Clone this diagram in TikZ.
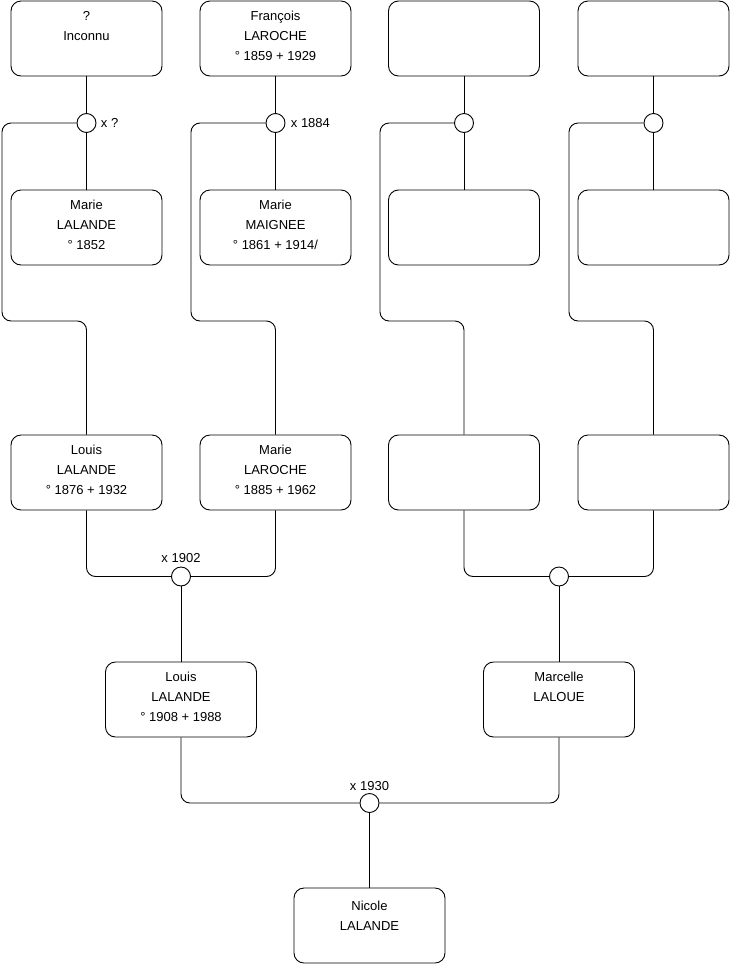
\documentclass[tikz,border=0pt]{standalone}
\usepackage{fontspec}
\setmainfont{Liberation Sans}
\begin{document}
\begin{tikzpicture}[x=1pt,y=-1pt,line width=0.9pt,
  box/.style={draw,rounded corners=10pt,minimum width=151pt,minimum height=75pt,inner sep=0pt},
  txt/.style={align=center,anchor=north,inner sep=0pt,font=\fontsize{13}{20}\selectfont},
  ring/.style={draw,circle,minimum size=19pt,inner sep=0pt,fill=white},
  lbl/.style={inner sep=0pt,font=\fontsize{13}{14}\selectfont},
  link/.style={rounded corners=9pt}]
\useasboundingbox[fill=white] (0,0) rectangle (740,975);
% row 1
\node[box] (b1) at (86.5,38.5) {};
\node[box] (b2) at (275.5,38.5) {};
\node[box] (b3) at (464,38.5) {};
\node[box] (b4) at (653.5,38.5) {};
% row 2
\node[box] (b5) at (86.5,227.5) {};
\node[box] (b6) at (275.5,227.5) {};
\node[box] (b7) at (464,227.5) {};
\node[box] (b8) at (653.5,227.5) {};
% row 3
\node[box] (b9) at (86.5,472.5) {};
\node[box] (b10) at (275.5,472.5) {};
\node[box] (b11) at (464,472.5) {};
\node[box] (b12) at (653.5,472.5) {};
% row 4
\node[box] (b13) at (181,699.5) {};
\node[box] (b14) at (559,699.5) {};
% row 5
\node[box] (b15) at (369.5,925.5) {};
% texts
\node[txt] (t1) at ([yshift=-10.5pt]b1.north) {?\\Inconnu};
\node[txt] (t2) at ([yshift=-10.5pt]b2.north) {François\\LAROCHE\\° 1859 + 1929};
\node[txt] (t5) at ([yshift=-10.5pt]b5.north) {Marie\\LALANDE\\° 1852};
\node[txt] (t6) at ([yshift=-10.5pt]b6.north) {Marie\\MAIGNEE\\° 1861 + 1914/};
\node[txt] (t9) at ([yshift=-10.5pt]b9.north) {Louis\\LALANDE\\° 1876 + 1932};
\node[txt] (t10) at ([yshift=-10.5pt]b10.north) {Marie\\LAROCHE\\° 1885 + 1962};
\node[txt] (t13) at ([yshift=-10.5pt]b13.north) {Louis\\LALANDE\\° 1908 + 1988};
\node[txt] (t14) at ([yshift=-10.5pt]b14.north) {Marcelle\\LALOUE};
\node[txt] (t15) at ([yshift=-13pt]b15.north) {Nicole\\LALANDE};
% circles
\node[ring] (c1) at (86.5,123) {};
\node[ring] (c2) at (275.5,123) {};
\node[ring] (c3) at (464,123) {};
\node[ring] (c4) at (653.5,123) {};
\node[ring] (c5) at (181,576.5) {};
\node[ring] (c6) at (559,576.5) {};
\node[ring] (c7) at (369.5,803) {};
% labels
\node[lbl,anchor=west] (l1) at ([xshift=4pt]c1.east) {x ?};
\node[lbl,anchor=west] (l2) at ([xshift=5pt]c2.east) {x 1884};
\node[lbl] (l5) at ([yshift=18pt]c5.center) {x 1902};
\node[lbl] (l7) at ([yshift=17pt]c7.center) {x 1930};
% coordinates for rails
\coordinate (r1a) at (2,123);   \coordinate (r1b) at (2,321);   \coordinate (r1c) at (86.5,321);
\coordinate (r2a) at (191,123); \coordinate (r2b) at (191,321); \coordinate (r2c) at (275.5,321);
\coordinate (r3a) at (380,123); \coordinate (r3b) at (380,321); \coordinate (r3c) at (464,321);
\coordinate (r4a) at (569,123); \coordinate (r4b) at (569,321); \coordinate (r4c) at (653.5,321);
% connectors top
\foreach \b/\c/\d in {b1/c1/b5,b2/c2/b6,b3/c3/b7,b4/c4/b8}{
  \draw (\b.south) -- (\c.north);
  \draw (\c.south) -- (\d.north);
}
\draw[link] (c1.west) -- (r1a) -- (r1b) -- (r1c) -- (b9.north);
\draw[link] (c2.west) -- (r2a) -- (r2b) -- (r2c) -- (b10.north);
\draw[link] (c3.west) -- (r3a) -- (r3b) -- (r3c) -- (b11.north);
\draw[link] (c4.west) -- (r4a) -- (r4b) -- (r4c) -- (b12.north);
% couples
\draw[link] (b9.south) |- (c5.west);
\draw[link] (b10.south) |- (c5.east);
\draw (c5.south) -- (b13.north);
\draw[link] (b11.south) |- (c6.west);
\draw[link] (b12.south) |- (c6.east);
\draw (c6.south) -- (b14.north);
\draw[link] (b13.south) |- (c7.west);
\draw[link] (b14.south) |- (c7.east);
\draw (c7.south) -- (b15.north);
\end{tikzpicture}
\end{document}
